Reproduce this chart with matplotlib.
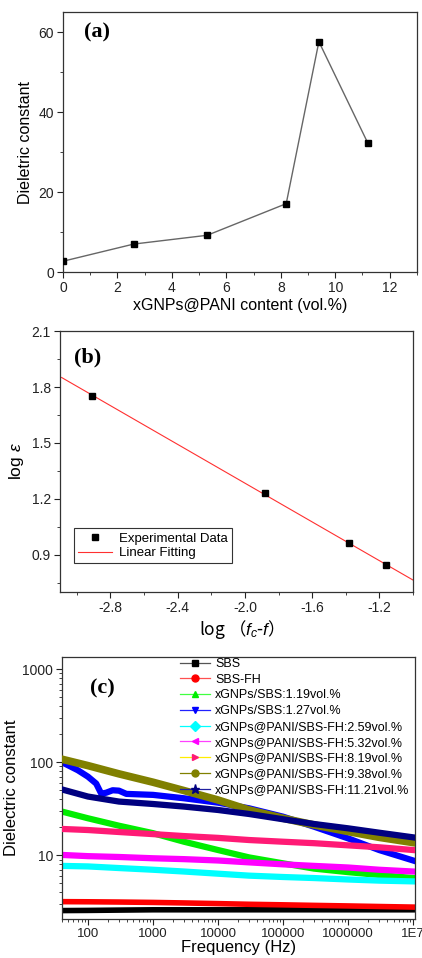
import numpy as np
import matplotlib
matplotlib.use('Agg')
import matplotlib.pyplot as plt
from matplotlib.lines import Line2D
from matplotlib.ticker import MultipleLocator, FixedLocator, FixedFormatter, LogLocator, NullFormatter

plt.rcParams['font.family'] = ['Liberation Sans', 'Noto Sans CJK SC', 'DejaVu Sans']
plt.rcParams['mathtext.fontset'] = 'custom'
plt.rcParams['mathtext.it'] = 'Liberation Sans:italic'
plt.rcParams['mathtext.rm'] = 'Liberation Sans'

# ---- (a) dielectric constant vs filler content
content = [0.0, 2.6, 5.3, 8.2, 9.4, 11.2]
diel_a = [2.7, 7.0, 9.2, 17.1, 57.6, 32.2]

# ---- (b) percolation fit
log_fc_f = [-2.91, -1.88, -1.38, -1.16]
log_eps = [1.752, 1.232, 0.962, 0.845]
fit_x = [-3.09, -1.0]
fit_y = [1.851, 0.764]

# ---- (c) frequency sweeps
freq = [40, 100, 300, 1e3, 3e3, 1e4, 3e4, 1e5, 3e5, 1e6, 3e6, 1e7]
sbs = [2.55, 2.56, 2.58, 2.6, 2.6, 2.6, 2.6, 2.6, 2.6, 2.6, 2.6, 2.6]
sbs_fh = [3.18, 3.17, 3.15, 3.12, 3.08, 3.03, 2.98, 2.94, 2.9, 2.86, 2.82, 2.78]
gnp_119 = [29.5, 25.0, 20.8, 17.3, 14.0, 11.4, 9.5, 8.2, 7.2, 6.6, 6.15, 5.7]
gnp_127_f = [40, 70, 100, 134, 160, 190, 240, 300, 390, 1e3, 3e3, 1e4, 3e4, 1e5, 3e5, 1e6, 3e6, 1e7]
gnp_127 = [100, 82, 70, 59, 46, 47, 50, 49.5, 45.7, 44.6, 41, 36.8, 32, 26, 20.3, 15.2, 11.4, 8.8]
pani_259 = [7.7, 7.6, 7.3, 7.0, 6.7, 6.35, 6.05, 5.85, 5.7, 5.5, 5.35, 5.25]
pani_532 = [10.1, 9.8, 9.6, 9.3, 9.1, 8.8, 8.4, 8.0, 7.7, 7.4, 7.0, 6.7]
pani_819 = [19.2, 18.7, 17.8, 16.9, 16.1, 15.4, 14.6, 14.0, 13.5, 12.8, 12.2, 11.4]
pani_938 = [107.7, 92, 75, 61, 49.6, 39.3, 30.7, 25, 21.2, 18, 15.6, 13.7]
pani_1121 = [51, 42.8, 37.8, 35.6, 33.4, 30.7, 27.8, 24.4, 21.7, 19.5, 17.5, 15.6]

labels_c = ['SBS', 'SBS-FH', 'xGNPs/SBS:1.19vol.%', 'xGNPs/SBS:1.27vol.%',
            'xGNPs@PANI/SBS-FH:2.59vol.%', 'xGNPs@PANI/SBS-FH:5.32vol.%',
            'xGNPs@PANI/SBS-FH:8.19vol.%', 'xGNPs@PANI/SBS-FH:9.38vol.%',
            'xGNPs@PANI/SBS-FH:11.21vol.%']

fig = plt.figure(figsize=(4.22, 9.58), dpi=100)
spine_col = '#333333'


def style(ax):
    for s in ax.spines.values():
        s.set_color(spine_col)
        s.set_linewidth(0.9)
    ax.tick_params(which='both', direction='out', top=False, right=False, labelsize=10,
                   colors='#222222', pad=2.5)
    ax.tick_params(which='major', length=4)
    ax.tick_params(which='minor', length=2)


# (a)
ax1 = fig.add_axes([0.149, 0.716, 0.839, 0.2714])
ax1.plot(content, diel_a, color='#666666', lw=1.0, marker='s', ms=5, mfc='black', mec='black', zorder=3)
ax1.set_xlim(0, 13)
ax1.set_ylim(0, 65)
ax1.xaxis.set_major_locator(MultipleLocator(2))
ax1.xaxis.set_minor_locator(MultipleLocator(1))
ax1.yaxis.set_major_locator(FixedLocator([0, 20, 40, 60]))
ax1.yaxis.set_minor_locator(MultipleLocator(10))
ax1.set_xlabel('xGNPs@PANI content (vol.%)', fontsize=11.5, labelpad=2)
ax1.set_ylabel('Dieletric constant', fontsize=11.5, labelpad=4)
ax1.text(0.06, 0.92, '(a)', transform=ax1.transAxes, fontsize=16, fontweight='bold',
         family='Liberation Serif', va='center')
style(ax1)

# (b)
ax2 = fig.add_axes([0.142, 0.382, 0.837, 0.2724])
ax2.plot(fit_x, fit_y, color='#ff3030', lw=0.8, label='Linear Fitting', zorder=2)
ax2.plot(log_fc_f, log_eps, ls='none', marker='s', ms=4.5, color='black', label='Experimental Data', zorder=3)
ax2.set_xlim(-3.1, -1.0)
ax2.set_ylim(0.7, 2.1)
ax2.xaxis.set_major_locator(FixedLocator([-2.8, -2.4, -2.0, -1.6, -1.2]))
ax2.xaxis.set_major_formatter(FixedFormatter(['-2.8', '-2.4', '-2.0', '-1.6', '-1.2']))
ax2.xaxis.set_minor_locator(FixedLocator([-3.0, -2.6, -2.2, -1.8, -1.4, -1.0]))
ax2.yaxis.set_major_locator(FixedLocator([0.9, 1.2, 1.5, 1.8, 2.1]))
ax2.yaxis.set_major_formatter(FixedFormatter(['0.9', '1.2', '1.5', '1.8', '2.1']))
ax2.yaxis.set_minor_locator(FixedLocator([0.75, 1.05, 1.35, 1.65, 1.95]))
ax2.set_xlabel('log （$f_c$-$f$）', fontsize=12.5, labelpad=2, family='Noto Sans CJK SC')
ax2.set_ylabel(r'log $\varepsilon$', fontsize=12.5, labelpad=4)
ax2.text(0.04, 0.9, '(b)', transform=ax2.transAxes, fontsize=16, fontweight='bold',
         family='Liberation Serif', va='center')
h, l = ax2.get_legend_handles_labels()
leg2 = ax2.legend(h[::-1], l[::-1], loc='lower left', bbox_to_anchor=(0.04, 0.11), borderaxespad=0,
                  fontsize=9.5, fancybox=False, edgecolor='#333333', framealpha=1, borderpad=0.3,
                  labelspacing=0.2, handlelength=2.6, handletextpad=0.5)
leg2.get_frame().set_linewidth(0.8)
style(ax2)

# (c)
ax3 = fig.add_axes([0.147, 0.0407, 0.836, 0.2735])
band_cols = ['black', '#ff0000', '#00ee00', '#0000ff', '#00ffff', '#ff00ff', '#ff1a75', '#808000', '#000080']
line_cols = ['#555555', '#ff5050', '#40ff40', '#2020ff', '#00ffff', '#ff40ff', '#ffee00', '#808000', '#2020a0']
markers = ['s', 'o', '^', 'v', 'D', '<', '>', 'o', '*']
series = [(freq, sbs), (freq, sbs_fh), (freq, gnp_119), (gnp_127_f, gnp_127), (freq, pani_259),
          (freq, pani_532), (freq, pani_819), (freq, pani_938), (freq, pani_1121)]
widths = [4, 4, 4.5, 4.5, 4.5, 4.5, 4.5, 5.5, 4.5]
order = [0, 1, 2, 4, 5, 6, 3, 8, 7]
for i in order:
    fx, fy = series[i]
    ax3.plot(fx, fy, color=band_cols[i], lw=widths[i], solid_joinstyle='round', zorder=2 + i * 0.1)
ax3.set_xscale('log')
ax3.set_yscale('log')
ax3.set_xlim(40, 1.06e7)
ax3.set_ylim(2.07, 1350)
ax3.xaxis.set_major_locator(FixedLocator([100, 1e3, 1e4, 1e5, 1e6, 1e7]))
ax3.xaxis.set_major_formatter(FixedFormatter(['100', '1000', '10000', '100000', '1000000', '1E7']))
ax3.xaxis.set_minor_locator(LogLocator(base=10, subs=np.arange(2, 10), numticks=20))
ax3.xaxis.set_minor_formatter(NullFormatter())
ax3.yaxis.set_major_locator(FixedLocator([10, 100, 1000]))
ax3.yaxis.set_major_formatter(FixedFormatter(['10', '100', '1000']))
ax3.yaxis.set_minor_locator(LogLocator(base=10, subs=np.arange(2, 10), numticks=20))
ax3.yaxis.set_minor_formatter(NullFormatter())
ax3.set_xlabel('Frequency (Hz)', fontsize=12, labelpad=0)
ax3.set_ylabel('Dielectric constant', fontsize=12, labelpad=2)
ax3.text(0.08, 0.88, '(c)', transform=ax3.transAxes, fontsize=16, fontweight='bold',
         family='Liberation Serif', va='center')
handles = [Line2D([], [], color=line_cols[i], lw=0.9, marker=markers[i], ms=5 if markers[i] != '*' else 6.5,
                  mfc=band_cols[i], mec=band_cols[i]) for i in range(9)]
ax3.legend(handles, labels_c, loc='upper right', bbox_to_anchor=(1.01, 1.03), frameon=False,
           fontsize=9, labelspacing=0.3, handlelength=2.4, handletextpad=0.4, borderpad=0.2)
style(ax3)
ax3.tick_params(axis='x', labelsize=9.5)

fig.savefig('out.png', dpi=100)
